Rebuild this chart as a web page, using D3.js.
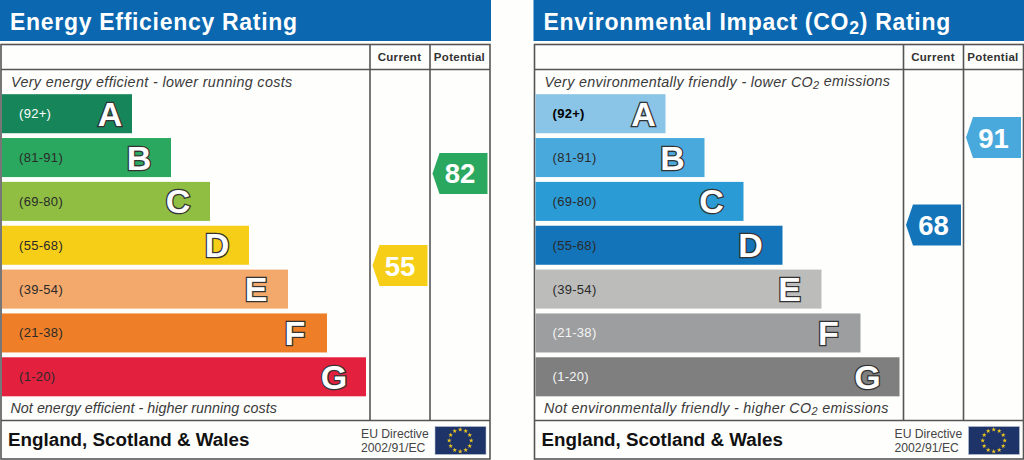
<!DOCTYPE html>
<html>
<head>
<meta charset="utf-8">
<script src="https://cdn.jsdelivr.net/npm/d3@7"></script>
<style>
  html, body { margin: 0; padding: 0; background: #fefefd; }
  svg { display: block; font-family: "Liberation Sans", Arial, sans-serif; }
</style>
</head>
<body>
<svg></svg>
<script>
// Bands, shared by both panels
const letters = ["A", "B", "C", "D", "E", "F", "G"];
const ranges = ["(92+)", "(81-91)", "(69-80)", "(55-68)", "(39-54)", "(21-38)", "(1-20)"];
const bandRank = [1, 2, 3, 4, 5, 6, 7];
const bandEdges = [100, 91.5, 80.5, 68.5, 54.5, 38.5, 20.5, 1];
const columns = ["Current", "Potential"];

// Energy panel
const energyColors = ["#17855a", "#2ba85f", "#8fbe43", "#f6ce18", "#f4a96c", "#ee7f28", "#e3213f"];
const energyLabelColors = ["#ffffff", "#2a2a2a", "#2a2a2a", "#2a2a2a", "#2a2a2a", "#2a2a2a", "#2a2a2a"];
const energyScores = [55, 82];

// Environmental panel
const envColors = ["#8ac4e6", "#4aa9dc", "#2a9bd4", "#1474b9", "#bcbcba", "#9d9e9f", "#7f7f7f"];
const envLabelColors = ["#000000", "#2a2a2a", "#2a2a2a", "#2a2a2a", "#2a2a2a", "#f4f4f4", "#f4f4f4"];
const envScores = [68, 91];

const svg = d3.select("svg").attr("width", 1024).attr("height", 460);

const y = d3.scaleBand().domain(letters).range([92, 398.5]).paddingInner(0.11).paddingOuter(0.05);
const barEnd = d3.scaleLinear().domain([1, 7]).range([132, 366]);
const colX = d3.scaleBand().domain(columns).range([370, 490]);

// score -> y, piecewise through the gaps between bands
const edgeY = letters.map((l) => y(l) - (y.step() - y.bandwidth()) / 2);
edgeY.push(y("G") + y.bandwidth() + (y.step() - y.bandwidth()) / 2);
const scoreY = d3.scaleLinear().domain(bandEdges).range(edgeY);
const bandOf = d3.scaleThreshold().domain(bandEdges.slice(1, 7).reverse()).range(d3.range(6, -1, -1));

const line = d3.line();

function rich(sel, parts) {
  // parts: plain strings, or [string] for a subscript
  let afterSub = false;
  parts.forEach((p) => {
    if (typeof p === "string") {
      sel.append("tspan").attr("dy", afterSub ? "-0.17em" : null).text(p);
      afterSub = false;
    } else {
      sel.append("tspan").attr("dy", "0.22em").attr("font-size", "0.77em").text(p[0]);
      afterSub = true;
    }
  });
}

function panel(dx, cfg) {
  const g = svg.append("g").attr("transform", `translate(${dx},0)`);

  g.append("rect").attr("x", 0).attr("y", 0).attr("width", 491).attr("height", 41).attr("fill", "#0a67b0");
  rich(
    g.append("text").attr("x", 10).attr("y", 30).attr("fill", "#fff")
      .attr("font-size", 23).attr("font-weight", "bold").attr("letter-spacing", 0.7),
    cfg.title
  );

  // frame and rules
  g.append("rect").attr("x", 1).attr("y", 44.5).attr("width", 489).attr("height", 414.5)
    .attr("fill", "none").attr("stroke", "#555").attr("stroke-width", 1.6);
  g.append("line").attr("x1", 1).attr("x2", 490).attr("y1", 69.5).attr("y2", 69.5)
    .attr("stroke", "#555").attr("stroke-width", 1.6);
  g.append("line").attr("x1", 1).attr("x2", 490).attr("y1", 420.5).attr("y2", 420.5)
    .attr("stroke", "#555").attr("stroke-width", 1.6);
  g.selectAll(".col").data(columns).enter().append("line").attr("class", "col")
    .attr("x1", (d) => colX(d)).attr("x2", (d) => colX(d))
    .attr("y1", 44.5).attr("y2", 420.5)
    .attr("stroke", "#555").attr("stroke-width", 1.6);
  g.selectAll(".colLabel").data(columns).enter().append("text").attr("class", "colLabel")
    .attr("x", (d) => colX(d) + colX.bandwidth() / 2 - 0.5).attr("y", 61)
    .attr("text-anchor", "middle").attr("font-size", 11.5).attr("font-weight", "bold")
    .attr("letter-spacing", 0.3).attr("fill", "#333").text((d) => d);

  rich(g.append("text").attr("x", 11).attr("y", 86.5).attr("font-size", 14.3).attr("font-style", "italic")
    .attr("letter-spacing", cfg.topSpacing).attr("fill", "#3a3a3a"), cfg.top);
  rich(g.append("text").attr("x", 10.5).attr("y", 413).attr("font-size", 14.3).attr("font-style", "italic")
    .attr("letter-spacing", cfg.bottomSpacing).attr("fill", "#3a3a3a"), cfg.bottom);

  // bars
  const bars = g.selectAll(".band").data(letters).enter().append("g").attr("class", "band");
  bars.append("rect")
    .attr("x", 2)
    .attr("y", (d) => y(d))
    .attr("width", (d, i) => barEnd(bandRank[i]) - 2)
    .attr("height", y.bandwidth())
    .attr("fill", (d, i) => cfg.colors[i]);
  bars.append("text")
    .attr("x", 19)
    .attr("y", (d) => y(d) + y.bandwidth() / 2 + 4.5)
    .attr("font-size", 13)
    .attr("font-weight", (d, i) => (cfg.boldFirst && i === 0 ? "bold" : "normal"))
    .attr("letter-spacing", 0.3)
    .attr("fill", (d, i) => cfg.labelColors[i])
    .text((d, i) => ranges[i]);
  bars.append("text")
    .attr("x", (d, i) => barEnd(bandRank[i]) - (d === "A" ? 22 : 32))
    .attr("y", (d) => y(d) + y.bandwidth() / 2 + 12)
    .attr("text-anchor", "middle")
    .attr("font-size", 34)
    .attr("font-weight", "bold")
    .attr("fill", "#fff")
    .attr("stroke", "#333")
    .attr("stroke-width", 2.6)
    .attr("paint-order", "stroke")
    .text((d) => d);

  // score arrows
  const arrows = g.selectAll(".score").data(cfg.scores).enter().append("g").attr("class", "score");
  arrows.append("path")
    .attr("d", (d, i) => {
      const left = colX(columns[i]) + 2.5;
      const right = left + 55;
      const c = scoreY(d);
      return line([[left, c], [left + 7, c - 20.5], [right, c - 20.5], [right, c + 20.5], [left + 7, c + 20.5]]) + "Z";
    })
    .attr("fill", (d) => cfg.colors[bandOf(d)]);
  arrows.append("text")
    .attr("x", (d, i) => colX(columns[i]) + 30)
    .attr("y", (d) => scoreY(d) + 10)
    .attr("text-anchor", "middle")
    .attr("font-size", 27.5)
    .attr("font-weight", "bold")
    .attr("fill", "#fff")
    .text((d) => d);

  // footer
  g.append("text").attr("x", 8).attr("y", 446).attr("font-size", 18.8).attr("font-weight", "bold")
    .attr("fill", "#111").text("England, Scotland & Wales");
  g.append("text").attr("x", 361).attr("y", 438).attr("font-size", 12.2).attr("fill", "#444").text("EU Directive");
  g.append("text").attr("x", 361).attr("y", 452).attr("font-size", 12.2).attr("fill", "#444").text("2002/91/EC");

  // flag
  g.append("rect").attr("x", 435).attr("y", 426.5).attr("width", 51).attr("height", 28)
    .attr("fill", "#1e3468").attr("stroke", "#b8c0d0").attr("stroke-width", 0.6);
  g.selectAll(".star").data(d3.range(12)).enter().append("path").attr("class", "star")
    .attr("d", d3.symbol(d3.symbolStar, 7))
    .attr("fill", "#f2c81e")
    .attr("transform", (d) => {
      const a = (d / 12) * 2 * Math.PI;
      return `translate(${460.2 + 11 * Math.sin(a)},${440.5 - 11 * Math.cos(a)})`;
    });
}

panel(0, {
  title: ["Energy Efficiency Rating"],
  top: ["Very energy efficient - lower running costs"],
  bottom: ["Not energy efficient - higher running costs"],
  topSpacing: 0.37,
  bottomSpacing: 0.04,
  colors: energyColors,
  labelColors: energyLabelColors,
  scores: energyScores,
  boldFirst: false
});

panel(533.5, {
  title: ["Environmental Impact (CO", ["2"], ") Rating"],
  top: ["Very environmentally friendly - lower CO", ["2"], " emissions"],
  bottom: ["Not environmentally friendly - higher CO", ["2"], " emissions"],
  topSpacing: 0.33,
  bottomSpacing: 0.33,
  colors: envColors,
  labelColors: envLabelColors,
  scores: envScores,
  boldFirst: true
});
</script>
</body>
</html>
